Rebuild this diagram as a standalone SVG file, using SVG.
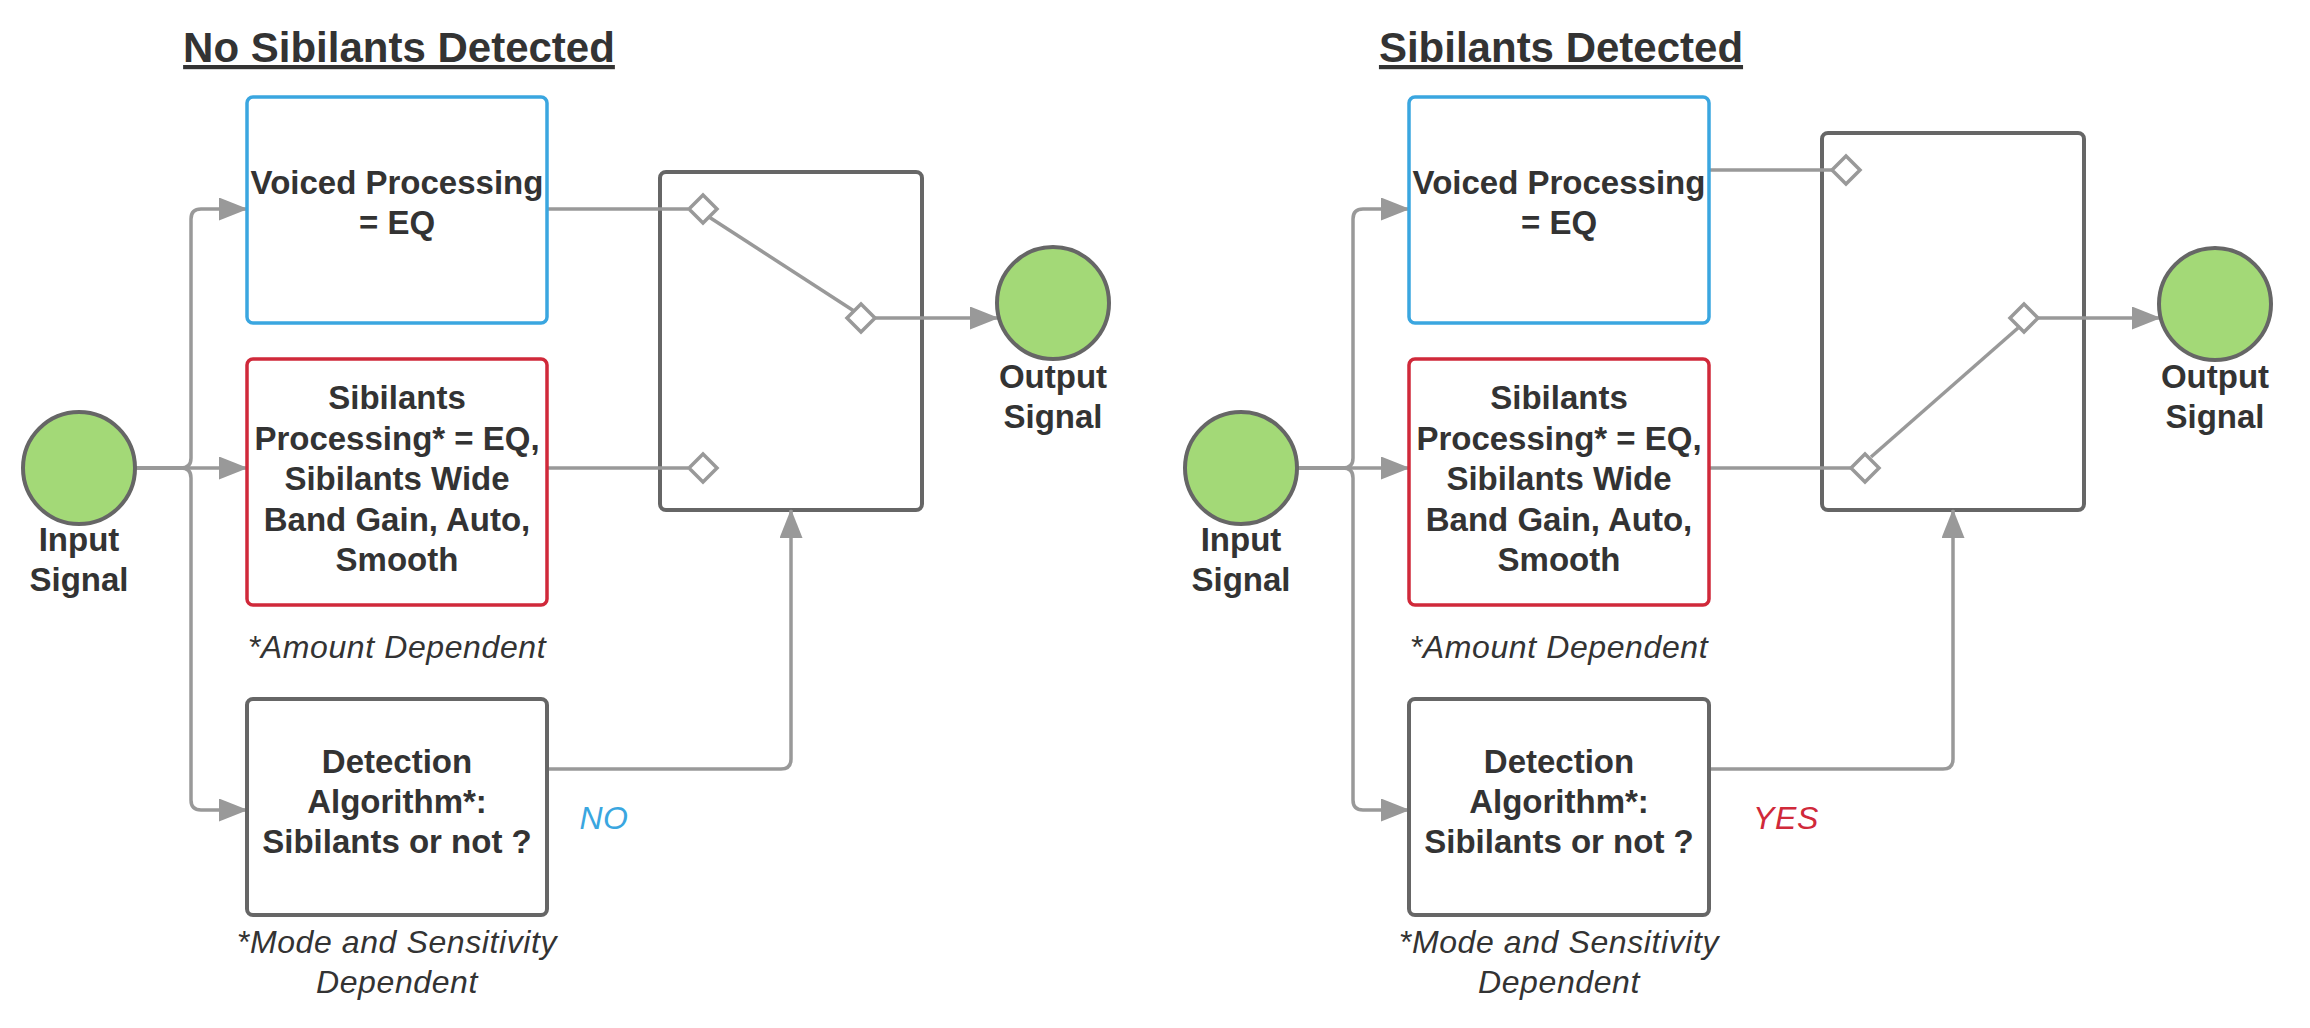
<svg xmlns="http://www.w3.org/2000/svg" width="2310" height="1028" viewBox="0 0 2310 1028">
<style>
  text { font-family: "Liberation Sans", Arial, sans-serif; fill: #333333; }
  .title { font-size: 42px; font-weight: bold; text-anchor: middle; text-decoration: underline; }
  .lbl { font-size: 33px; font-weight: bold; text-anchor: middle; }
  .note { font-size: 32px; font-style: italic; text-anchor: middle; letter-spacing: 0.6px; }
  .blue { fill: #ffffff; stroke: #3aa6e0; stroke-width: 3.5; }
  .red { fill: #ffffff; stroke: #d0293a; stroke-width: 3.5; }
  .grey { fill: #ffffff; stroke: #666666; stroke-width: 4; }
  .circ { fill: #a3d977; stroke: #666666; stroke-width: 4; }
  .conn { fill: none; stroke: #999999; stroke-width: 3.5; }
  .dia { fill: #ffffff; stroke: #999999; stroke-width: 3.5; }
</style>
<defs>
  <marker id="arrow" viewBox="0 0 29 23" refX="28" refY="11.5" markerWidth="29" markerHeight="23" markerUnits="userSpaceOnUse" orient="auto">
    <path d="M0,0 L29,11.5 L0,23 z" fill="#999999"/>
  </marker>
</defs>

<!-- ============ LEFT PANEL ============ -->
<g id="left-title"><text class="title" x="399" y="62">No Sibilants Detected</text></g>

<g id="left-switch"><rect class="grey" x="660" y="172" width="262" height="338" rx="6"/></g>

<g id="left-connectors">
  <path class="conn" d="M135,468 H181 Q191,468 191,458 V219 Q191,209 201,209 H247" marker-end="url(#arrow)"/>
  <path class="conn" d="M135,468 H247" marker-end="url(#arrow)"/>
  <path class="conn" d="M135,468 H181 Q191,468 191,478 V800 Q191,810 201,810 H247" marker-end="url(#arrow)"/>
  <path class="conn" d="M547,209 H688"/>
  <path class="conn" d="M547,468 H688"/>
  <path class="conn" d="M709,217 L854,311"/>
  <path class="conn" d="M875,318 H998" marker-end="url(#arrow)"/>
  <path class="conn" d="M547,769 H781 Q791,769 791,759 V510" marker-end="url(#arrow)"/>
</g>

<g id="left-input">
  <circle class="circ" cx="79" cy="468" r="56"/>
  <text class="lbl" x="79" y="551">Input</text>
  <text class="lbl" x="79" y="591">Signal</text>
</g>

<g id="left-voiced">
  <rect class="blue" x="247" y="97" width="300" height="226" rx="6"/>
  <text class="lbl" x="397" y="194">Voiced Processing</text>
  <text class="lbl" x="397" y="234">= EQ</text>
</g>

<g id="left-sibilants">
  <rect class="red" x="247" y="359" width="300" height="246" rx="6"/>
  <text class="lbl" x="397" y="409">Sibilants</text>
  <text class="lbl" x="397" y="449.5">Processing* = EQ,</text>
  <text class="lbl" x="397" y="490">Sibilants Wide</text>
  <text class="lbl" x="397" y="530.5">Band Gain, Auto,</text>
  <text class="lbl" x="397" y="571">Smooth</text>
</g>
<g id="left-amount-note"><text class="note" x="397" y="658">*Amount Dependent</text></g>

<g id="left-detection">
  <rect class="grey" x="247" y="699" width="300" height="216" rx="6"/>
  <text class="lbl" x="397" y="773">Detection</text>
  <text class="lbl" x="397" y="813">Algorithm*:</text>
  <text class="lbl" x="397" y="853">Sibilants or not ?</text>
</g>
<g id="left-mode-note">
  <text class="note" x="397" y="953">*Mode and Sensitivity</text>
  <text class="note" x="397" y="993">Dependent</text>
</g>
<g id="left-no"><text class="note" x="604" y="829" style="fill:#3aa6e0">NO</text></g>

<g id="left-contacts">
  <polygon class="dia" points="689,209 703,195 717,209 703,223"/>
  <polygon class="dia" points="847,318 861,304 875,318 861,332"/>
  <polygon class="dia" points="689,468 703,454 717,468 703,482"/>
</g>

<g id="left-output">
  <circle class="circ" cx="1053" cy="303" r="56"/>
  <text class="lbl" x="1053" y="388">Output</text>
  <text class="lbl" x="1053" y="428">Signal</text>
</g>

<!-- ============ RIGHT PANEL ============ -->
<g id="right-title"><text class="title" x="1561" y="62">Sibilants Detected</text></g>

<g id="right-switch"><rect class="grey" x="1822" y="133" width="262" height="377" rx="6"/></g>

<g id="right-connectors">
  <path class="conn" d="M1297,468 H1343 Q1353,468 1353,458 V219 Q1353,209 1363,209 H1409" marker-end="url(#arrow)"/>
  <path class="conn" d="M1297,468 H1409" marker-end="url(#arrow)"/>
  <path class="conn" d="M1297,468 H1343 Q1353,468 1353,478 V800 Q1353,810 1363,810 H1409" marker-end="url(#arrow)"/>
  <path class="conn" d="M1709,170 H1832"/>
  <path class="conn" d="M1709,468 H1851"/>
  <path class="conn" d="M1871,457 L2018,328"/>
  <path class="conn" d="M2038,318 H2160" marker-end="url(#arrow)"/>
  <path class="conn" d="M1709,769 H1943 Q1953,769 1953,759 V510" marker-end="url(#arrow)"/>
</g>

<g id="right-input">
  <circle class="circ" cx="1241" cy="468" r="56"/>
  <text class="lbl" x="1241" y="551">Input</text>
  <text class="lbl" x="1241" y="591">Signal</text>
</g>

<g id="right-voiced">
  <rect class="blue" x="1409" y="97" width="300" height="226" rx="6"/>
  <text class="lbl" x="1559" y="194">Voiced Processing</text>
  <text class="lbl" x="1559" y="234">= EQ</text>
</g>

<g id="right-sibilants">
  <rect class="red" x="1409" y="359" width="300" height="246" rx="6"/>
  <text class="lbl" x="1559" y="409">Sibilants</text>
  <text class="lbl" x="1559" y="449.5">Processing* = EQ,</text>
  <text class="lbl" x="1559" y="490">Sibilants Wide</text>
  <text class="lbl" x="1559" y="530.5">Band Gain, Auto,</text>
  <text class="lbl" x="1559" y="571">Smooth</text>
</g>
<g id="right-amount-note"><text class="note" x="1559" y="658">*Amount Dependent</text></g>

<g id="right-detection">
  <rect class="grey" x="1409" y="699" width="300" height="216" rx="6"/>
  <text class="lbl" x="1559" y="773">Detection</text>
  <text class="lbl" x="1559" y="813">Algorithm*:</text>
  <text class="lbl" x="1559" y="853">Sibilants or not ?</text>
</g>
<g id="right-mode-note">
  <text class="note" x="1559" y="953">*Mode and Sensitivity</text>
  <text class="note" x="1559" y="993">Dependent</text>
</g>
<g id="right-yes"><text class="note" x="1786" y="829" style="fill:#d0293a">YES</text></g>

<g id="right-contacts">
  <polygon class="dia" points="1832,170 1846,156 1860,170 1846,184"/>
  <polygon class="dia" points="2010,318 2024,304 2038,318 2024,332"/>
  <polygon class="dia" points="1851,468 1865,454 1879,468 1865,482"/>
</g>

<g id="right-output">
  <circle class="circ" cx="2215" cy="304" r="56"/>
  <text class="lbl" x="2215" y="388">Output</text>
  <text class="lbl" x="2215" y="428">Signal</text>
</g>
</svg>
